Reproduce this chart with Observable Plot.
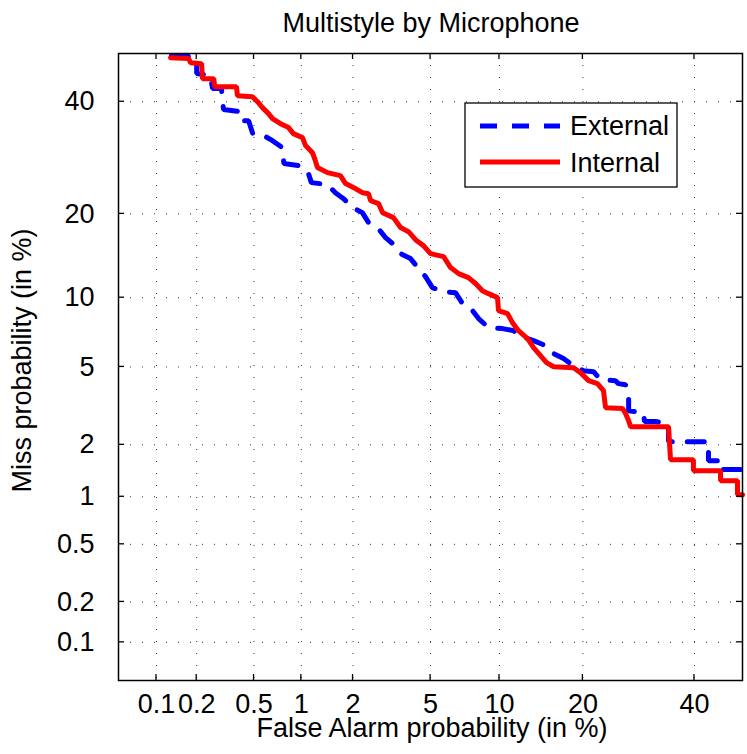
<!DOCTYPE html>
<html><head><meta charset="utf-8">
<script src="https://cdn.jsdelivr.net/npm/d3@7"></script>
<script src="https://cdn.jsdelivr.net/npm/@observablehq/plot@0.6"></script>
<style>body{margin:0;background:#fff}</style>
</head><body><div id="chart"></div>
<script>
// Tick values (percent) and their labels, shared by both axes
const tickValues = [0.1, 0.2, 0.5, 1, 2, 5, 10, 20, 40];
const tickLabels = ["0.1", "0.2", "0.5", "1", "2", "5", "10", "20", "40"];
const axisLimits = [0.05, 50]; // percent
const seriesNames = ["External", "Internal"];

// External microphone DET curve (False Alarm %, Miss %)
const externalFA = [0.13,0.2,0.2,0.25,0.26,0.3,0.31,0.4,0.41,0.46,0.49,0.58,0.66,0.76,0.78,0.96,1.09,1.15,1.43,1.59,1.77,1.99,2.25,2.43,2.71,2.99,3.25,3.57,4.0,4.38,4.73,5.1,5.75,6.51,6.99,7.73,8.2,9.02,10.28,11.37,11.87,13.53,14.94,15.97,17.26,18.23,20.09,21.61,22.7,25.15,25.65,26.87,27.41,27.41,30.08,30.27,32.31,34.83,34.83,42.88,42.88,45.39,45.39,50];
const externalMiss = [49.57,49.35,45.81,45.39,42.69,42.69,38.43,38.03,36.22,36.22,33.71,33.32,32.36,31.08,28.17,27.83,26.95,24.9,24.58,23.26,22.31,20.94,20.18,18.75,18.05,16.7,15.93,14.68,14.09,12.95,12.08,10.96,10.57,10.47,9.47,8.86,8.21,7.51,7.44,7.29,6.94,6.59,6.26,5.76,5.47,5.18,4.8,4.75,4.35,4.3,4.16,4.11,3.55,3.04,2.97,2.67,2.67,2.6,2.08,2.08,1.63,1.63,1.45,1.45];

// Internal microphone DET curve (False Alarm %, Miss %)
const internalFA = [0.128,0.175,0.18,0.217,0.22,0.265,0.269,0.381,0.387,0.488,0.527,0.568,0.622,0.66,0.742,0.834,0.893,1.016,1.061,1.168,1.214,1.25,1.432,1.699,1.817,2.061,2.253,2.43,2.493,2.748,2.886,3.284,3.569,3.91,4.277,4.624,4.995,5.75,6.186,6.719,7.42,7.96,8.51,9.02,9.82,9.91,10.77,11.26,11.87,12.85,13.53,14.34,15.07,15.97,18.65,19.64,20.85,22.22,23.18,23.51,26.35,26.87,27.41,27.75,34.83,35.21,39.79,39.79,45.39,45.39,48.95,48.95,50];
const internalMiss = [49.13,48.93,48.08,47.87,44.75,44.75,43.09,43.09,41.25,41.04,40.02,38.82,37.62,36.62,35.64,34.87,33.71,32.94,31.44,30.14,28.7,27.48,26.59,26.08,24.74,23.92,23.26,23.1,22.0,21.55,20.18,19.45,18.05,17.49,16.31,15.67,14.68,14.32,13.06,12.4,11.97,11.37,10.66,10.38,10.01,8.86,8.61,7.89,7.29,6.73,6.13,5.64,5.24,5.01,4.96,4.7,4.3,4.16,3.84,3.15,3.12,2.94,2.7,2.51,2.51,1.652,1.652,1.429,1.429,1.248,1.248,1.03,1.03];

// Inverse normal CDF (normal deviate scale used by DET plots)
function probit(p) {
  const a=[-3.969683028665376e+01,2.209460984245205e+02,-2.759285104469687e+02,1.383577518672690e+02,-3.066479806614716e+01,2.506628277459239e+00];
  const b=[-5.447609879822406e+01,1.615858368580409e+02,-1.556989798598866e+02,6.680131188771972e+01,-1.328068155288572e+01];
  const c=[-7.784894002430293e-03,-3.223964580411365e-01,-2.400758277161838e+00,-2.549671348980625e+00,4.374664141464968e+00,2.938163982698783e+00];
  const d=[7.784695709041462e-03,3.224671290700398e-01,2.445134137142996e+00,3.754408661907416e+00];
  const pl = 0.02425;
  if (p < pl) { const q = Math.sqrt(-2*Math.log(p)); return (((((c[0]*q+c[1])*q+c[2])*q+c[3])*q+c[4])*q+c[5])/((((d[0]*q+d[1])*q+d[2])*q+d[3])*q+1); }
  if (p <= 1-pl) { const q = p-0.5, r = q*q; return (((((a[0]*r+a[1])*r+a[2])*r+a[3])*r+a[4])*r+a[5])*q/(((((b[0]*r+b[1])*r+b[2])*r+b[3])*r+b[4])*r+1); }
  const q = Math.sqrt(-2*Math.log(1-p)); return -(((((c[0]*q+c[1])*q+c[2])*q+c[3])*q+c[4])*q+c[5])/((((d[0]*q+d[1])*q+d[2])*q+d[3])*q+1);
}
const dev = pct => probit(pct / 100);

const external = externalFA.map((fa, i) => ({fa, miss: externalMiss[i], series: seriesNames[0]}));
const internal = internalFA.map((fa, i) => ({fa, miss: internalMiss[i], series: seriesNames[1]}));
const tickZ = tickValues.map(dev);
const fmt = z => { const i = tickZ.findIndex(t => Math.abs(t - z) < 1e-6); return i >= 0 ? tickLabels[i] : ""; };
const domain = axisLimits.map(dev);
const FONT = '"Liberation Sans", Arial, Helvetica, sans-serif';
const FS = 27;

const chart = Plot.plot({
  width: 747, height: 754,
  marginLeft: 118, marginRight: 5, marginTop: 53, marginBottom: 74,
  style: {fontFamily: FONT, fontSize: FS + "px", background: "#fff", color: "#000"},
  x: {domain},
  y: {domain},
  marks: [
    Plot.gridX(tickZ, {stroke: "#333", strokeOpacity: 1, strokeWidth: 1, strokeDasharray: "1,11"}),
    Plot.gridY(tickZ, {stroke: "#333", strokeOpacity: 1, strokeWidth: 1, strokeDasharray: "1,11"}),
    Plot.line(external, {x: d => dev(d.fa), y: d => dev(d.miss), stroke: "#0000ff", strokeWidth: 5, strokeDasharray: "17,15", strokeLinejoin: "miter"}),
    Plot.line(internal, {x: d => dev(d.fa), y: d => dev(d.miss), stroke: "#ff0000", strokeWidth: 5, strokeLinejoin: "miter"}),
    Plot.frame({stroke: "#000", strokeWidth: 1.5}),
    Plot.axisX(tickZ, {tickSize: 0, tickPadding: 13, tickFormat: fmt, label: null, fontSize: FS}),
    Plot.axisY(tickZ, {tickSize: 0, tickPadding: 24, tickFormat: fmt, label: null, fontSize: FS})
  ]
});
document.getElementById("chart").appendChild(chart);

// Inward tick marks on all four sides, positioned with Plot's own scales
const sx = chart.scale("x"), sy = chart.scale("y");
const [x0, x1] = sx.range, [y0, y1] = sy.range; // y0 bottom, y1 top
const svg = d3.select(chart);
const tg = svg.append("g").attr("stroke", "#000").attr("stroke-width", 1.3);
tickZ.forEach(z => {
  const px = sx.apply(z), py = sy.apply(z);
  tg.append("line").attr("x1", px).attr("x2", px).attr("y1", y0).attr("y2", y0 - 6);
  tg.append("line").attr("x1", px).attr("x2", px).attr("y1", y1).attr("y2", y1 + 6);
  tg.append("line").attr("y1", py).attr("y2", py).attr("x1", x0).attr("x2", x0 + 6);
  tg.append("line").attr("y1", py).attr("y2", py).attr("x1", x1).attr("x2", x1 - 6);
});

const cx = (x0 + x1) / 2, cy = (y0 + y1) / 2;
const txt = svg.append("g").attr("font-family", FONT).attr("font-size", FS).attr("fill", "#000").attr("text-anchor", "middle");
txt.append("text").attr("x", cx + 1).attr("y", 32).text("Multistyle by Microphone");
txt.append("text").attr("x", cx + 2).attr("y", 737).text("False Alarm probability (in %)");
txt.append("text").attr("transform", `translate(31,${cy - 6}) rotate(-90)`).text("Miss probability (in %)");

// Legend
const lg = svg.append("g");
lg.append("rect").attr("x", 465).attr("y", 103).attr("width", 212).attr("height", 84).attr("fill", "#fff").attr("stroke", "#000").attr("stroke-width", 1.3);
lg.append("line").attr("x1", 480).attr("x2", 560).attr("y1", 126).attr("y2", 126).attr("stroke", "#0000ff").attr("stroke-width", 5).attr("stroke-dasharray", "17,15");
lg.append("line").attr("x1", 480).attr("x2", 560).attr("y1", 162).attr("y2", 162).attr("stroke", "#ff0000").attr("stroke-width", 5);
const lt = lg.append("g").attr("font-family", FONT).attr("font-size", FS).attr("text-anchor", "start").attr("fill", "#000");
lt.append("text").attr("x", 570).attr("y", 135).text(seriesNames[0]);
lt.append("text").attr("x", 570).attr("y", 172).text(seriesNames[1]);
</script>
</body></html>
